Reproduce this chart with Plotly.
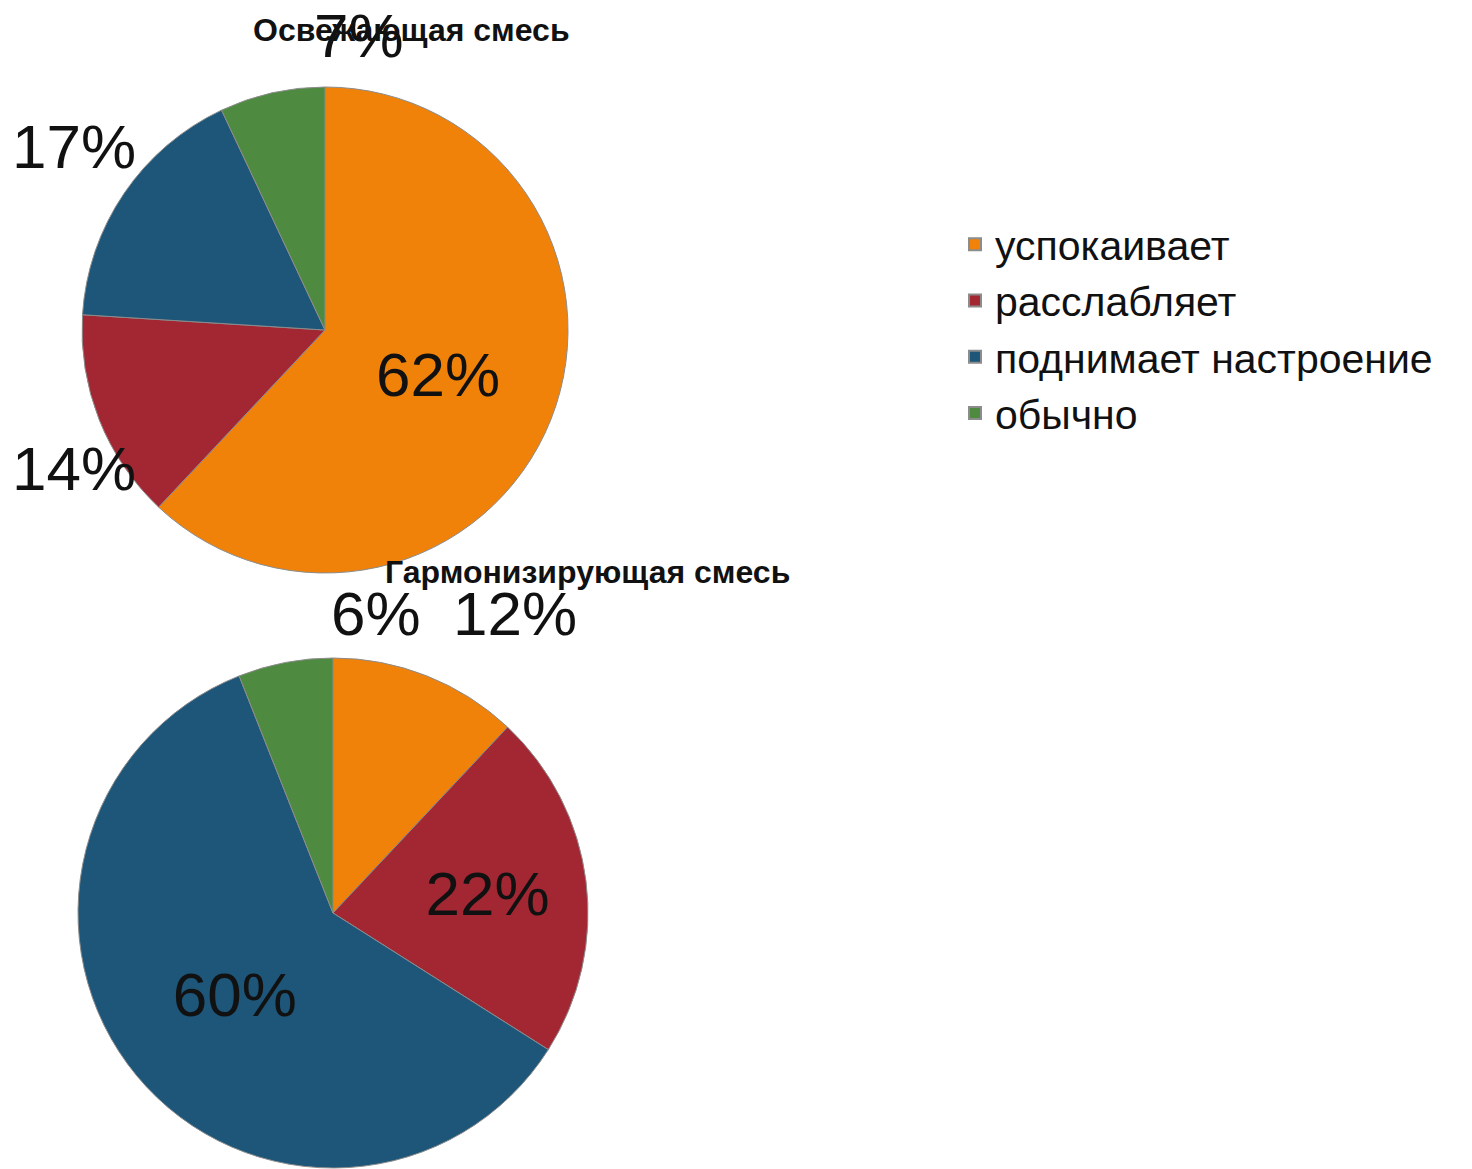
import plotly.graph_objects as go

W, H = 1472, 1169
OFF = 8  # page body margin in the browser

categories = ["успокаивает", "расслабляет", "поднимает настроение", "обычно"]
colors = ["#F0820A", "#A32733", "#1D5679", "#4E8A3F"]

title_top = "Освежающая смесь"
values_top = [62, 14, 17, 7]
title_bottom = "Гармонизирующая смесь"
values_bottom = [12, 22, 60, 6]

# label placement: inside labels are drawn by the pie, "free" labels sit where
# the reference's best-fit labels are
pos_top = ["inside", "none", "none", "none"]
pos_bottom = ["none", "inside", "inside", "none"]
free_top = {1: (74, 468), 2: (74, 147), 3: (359, 36)}
free_bottom = {0: (515, 613), 3: (376, 613)}

FONT = "Liberation Sans, Arial, sans-serif"
LABEL_SIZE = 62

def sx(x):
    return (x - OFF) / W

def sy(y):
    return 1 - (y - OFF) / H

def pie(values, positions, box, legend_id):
    x0, y0, x1, y1 = box
    return go.Pie(
        labels=categories, values=values, sort=False, direction="clockwise",
        rotation=0, textinfo="percent", textposition=positions,
        texttemplate="%{percent:.0%}",
        insidetextorientation="horizontal",
        textfont=dict(family=FONT, size=LABEL_SIZE, color="#111111"),
        insidetextfont=dict(family=FONT, size=LABEL_SIZE, color="#111111"),
        marker=dict(colors=colors, line=dict(color="#8c8c8c", width=1)),
        domain=dict(x=[sx(x0), sx(x1)], y=[sy(y1), sy(y0)]),
        legend=legend_id, hoverinfo="label+percent",
    )

fig = go.Figure()
fig.add_trace(pie(values_top, pos_top, (82, 87, 568, 573), "legend"))
fig.add_trace(pie(values_bottom, pos_bottom, (78, 658, 588, 1168), "legend2"))

annotations = []
for values, free in ((values_top, free_top), (values_bottom, free_bottom)):
    total = sum(values)
    for i, (x, y) in free.items():
        annotations.append(dict(
            text=f"{round(100 * values[i] / total)}%", x=sx(x), y=sy(y),
            xref="paper", yref="paper", showarrow=False,
            font=dict(family=FONT, size=LABEL_SIZE, color="#111111"),
            xanchor="center", yanchor="middle"))

for title, (x, y) in ((title_top, (411, 30)), (title_bottom, (587, 572))):
    annotations.append(dict(
        text="<b>" + title + "</b>", x=sx(x), y=sy(y),
        xref="paper", yref="paper", showarrow=False,
        font=dict(family=FONT, size=32, color="#111111"),
        xanchor="center", yanchor="middle"))

legend_style = dict(
    font=dict(family=FONT, size=41, color="#111111"),
    xanchor="left", yanchor="middle", bgcolor="rgba(0,0,0,0)",
    itemsizing="constant", traceorder="normal",
)

fig.update_layout(
    width=W, height=H,
    margin=dict(l=0, r=0, t=0, b=0, pad=0, autoexpand=False),
    paper_bgcolor="white", plot_bgcolor="white",
    showlegend=True,
    legend=dict(x=sx(955), y=sy(329), **legend_style),
    legend2=dict(x=sx(970), y=sy(914), **legend_style),
    annotations=annotations,
)

fig.write_html("out.html")
